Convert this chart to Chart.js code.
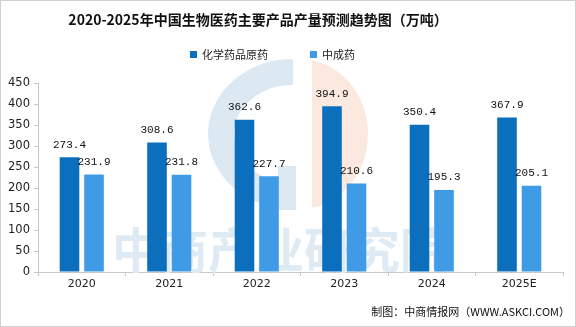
<!DOCTYPE html>
<html>
<head>
<meta charset="utf-8">
<script src="https://cdn.jsdelivr.net/npm/chart.js@4/dist/chart.umd.min.js"></script>
<style>
  html, body { margin: 0; padding: 0; background: #fff; }
  #wrap { width: 576px; height: 327px; position: relative; }
</style>
</head>
<body>
<div id="wrap"><canvas id="chart" width="576" height="327"></canvas></div>
<script>
// chart data
const years = ['2020', '2021', '2022', '2023', '2024', '2025E'];
const chemApi = [273.4, 308.6, 362.6, 394.9, 350.4, 367.9];   // 化学药品原药
const tcmDrug = [231.9, 231.8, 227.7, 210.6, 195.3, 205.1];   // 中成药
const yTicks = [0, 50, 100, 150, 200, 250, 300, 350, 400, 450];

const seriesNames = ['化学药品原药', '中成药'];
const colors = ['#0b6fbe', '#3f9be6'];
const titleText = '2020-2025年中国生物医药主要产品产量预测趋势图（万吨）';
const sourceText = '制图：中商情报网（WWW.ASKCI.COM）';

// background logo + watermark text
const watermark = {
    id: 'watermark',
    beforeDatasetsDraw(chart) {
        const ctx = chart.ctx;
        ctx.save();
        // blue "C" ring
        ctx.strokeStyle = '#dde9f2';
        ctx.lineWidth = 26;
        ctx.beginPath();
        ctx.ellipse(293, 134, 72, 62, 0, Math.PI * 0.5, Math.PI * 1.5);
        ctx.stroke();
        ctx.fillStyle = '#dde9f2';
        ctx.fillRect(278, 166, 18, 44);
        // peach half disc
        ctx.fillStyle = '#fbe8df';
        ctx.beginPath();
        ctx.ellipse(300, 134, 68, 75, 0, -Math.PI / 2, Math.PI / 2);
        ctx.closePath();
        ctx.fill();
        ctx.fillStyle = '#fff';
        ctx.fillRect(296, 56, 16, 160);
        // watermark text
        ctx.fillStyle = '#dfebf4';
        ctx.font = 'bold 48px "Noto Sans CJK SC"';
        ctx.textBaseline = 'middle';
        ctx.textAlign = 'left';
        ctx.fillText('中商产业研究院', 112, 250);
        ctx.restore();
    }
};

// title, legend, value labels, source, frame
const decorations = {
    id: 'decorations',
    afterDatasetsDraw(chart) {
        const ctx = chart.ctx;
        ctx.save();
        // value labels
        ctx.font = '11px "Liberation Mono"';
        ctx.fillStyle = '#111';
        ctx.textAlign = 'center';
        ctx.textBaseline = 'bottom';
        chart.data.datasets.forEach((ds, i) => {
            chart.getDatasetMeta(i).data.forEach((bar, j) => {
                ctx.fillText(ds.data[j].toFixed(1), bar.x, bar.y - 7);
            });
        });
        ctx.restore();
    },
    afterDraw(chart) {
        const ctx = chart.ctx;
        ctx.save();
        // title
        ctx.fillStyle = '#111';
        ctx.font = 'bold 14px "Noto Sans CJK SC"';
        ctx.textAlign = 'center';
        ctx.textBaseline = 'middle';
        ctx.fillText(titleText, 258, 20);
        // legend
        ctx.font = '11px "Noto Sans CJK SC"';
        ctx.textAlign = 'left';
        const legendX = [190, 310];
        seriesNames.forEach((name, i) => {
            ctx.fillStyle = colors[i];
            ctx.fillRect(legendX[i], 51, 7, 7);
            ctx.fillStyle = '#222';
            ctx.fillText(name, legendX[i] + 12, 55);
        });
        // source
        ctx.font = '11px "Noto Sans CJK SC"';
        ctx.textAlign = 'right';
        ctx.fillStyle = '#111';
        ctx.fillText(sourceText, 570, 312);
        // frame
        ctx.strokeStyle = '#d0d0d0';
        ctx.lineWidth = 1;
        ctx.strokeRect(0.5, 0.5, 575, 326);
        ctx.restore();
    }
};

new Chart(document.getElementById('chart'), {
    type: 'bar',
    data: {
        labels: years,
        datasets: [
            { label: seriesNames[0], data: chemApi, backgroundColor: colors[0] },
            { label: seriesNames[1], data: tcmDrug, backgroundColor: colors[1] }
        ]
    },
    options: {
        responsive: false,
        animation: false,
        layout: { padding: { top: 83, right: 13, bottom: 37, left: 0 } },
        datasets: { bar: { categoryPercentage: 0.56, barPercentage: 0.8 } },
        plugins: {
            legend: { display: false },
            title: { display: false },
            tooltip: { enabled: false }
        },
        scales: {
            x: {
                grid: { drawOnChartArea: false, tickLength: 4, color: '#c8c8c8' },
                border: { color: '#c8c8c8' },
                ticks: { color: '#222', font: { size: 11, family: 'DejaVu Sans' }, padding: 2 },
                afterFit(scale) { scale.height = 18; }
            },
            y: {
                min: 0,
                max: 450,
                afterBuildTicks(scale) { scale.ticks = yTicks.map(v => ({ value: v })); },
                grid: { drawOnChartArea: false, tickLength: 4, color: '#c8c8c8' },
                border: { color: '#c8c8c8' },
                ticks: { color: '#222', font: { size: 11.5, family: 'DejaVu Sans' }, padding: 4 },
                afterFit(scale) { scale.width = 38; }
            }
        }
    },
    plugins: [watermark, decorations]
});
</script>
</body>
</html>
